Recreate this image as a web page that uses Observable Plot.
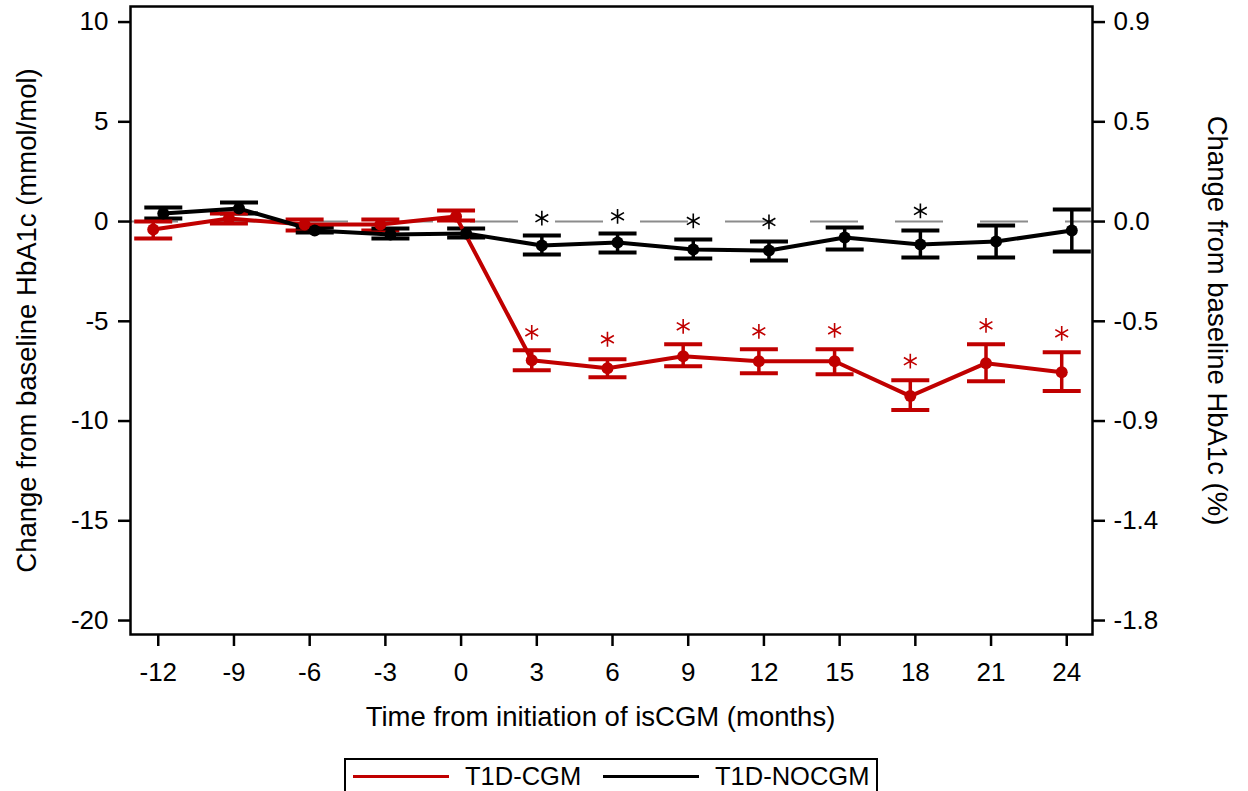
<!DOCTYPE html>
<html>
<head>
<meta charset="utf-8">
<script src="https://cdn.jsdelivr.net/npm/d3@7"></script>
<script src="https://cdn.jsdelivr.net/npm/@observablehq/plot@0.6"></script>
<style>
  html, body { margin: 0; padding: 0; background: #fff; }
  body { position: relative; width: 1248px; height: 791px; overflow: hidden; font-family: "Liberation Sans", Arial, sans-serif; }
  #chart { position: absolute; left: 0; top: 0; }
  #legend { position: absolute; left: 344px; top: 758px; width: 534px; height: 44px; border: 2px solid #000; box-sizing: border-box; }
  .item { position: absolute; top: 0; height: 32px; display: flex; align-items: center; font-size: 25.5px; color: #000; }
  .swatch { display: inline-block; width: 96px; height: 3px; margin-right: 16px; }
</style>
</head>
<body>
<div id="chart"></div>
<div id="legend"></div>
<script>
// ---- data ----
const months = [-12, -9, -6, -3, 0, 3, 6, 9, 12, 15, 18, 21, 24];

const cgmMean = [-0.4, 0.15, -0.15, -0.15, 0.25, -6.95, -7.35, -6.75, -7.0, -7.0, -8.75, -7.1, -7.55];
const cgmLow  = [-0.85, -0.1, -0.45, -0.45, 0.05, -7.45, -7.8, -7.25, -7.6, -7.65, -9.45, -8.0, -8.5];
const cgmHigh = [0.0, 0.4, 0.1, 0.1, 0.55, -6.45, -6.9, -6.15, -6.4, -6.4, -7.95, -6.15, -6.55];
const cgmStar = [null, null, null, null, null, -5.55, -5.9, -5.25, -5.5, -5.45, -7.0, -5.2, -5.6];

const nocgmMean = [0.4, 0.65, -0.45, -0.65, -0.6, -1.2, -1.05, -1.4, -1.45, -0.8, -1.15, -1.0, -0.45];
const nocgmLow  = [0.15, 0.4, -0.55, -0.85, -0.8, -1.65, -1.55, -1.85, -1.95, -1.4, -1.8, -1.8, -1.5];
const nocgmHigh = [0.7, 0.95, -0.3, -0.35, -0.35, -0.7, -0.6, -0.9, -1.0, -0.3, -0.45, -0.2, 0.6];
const nocgmStar = [null, null, null, null, null, 0.17, 0.26, 0.03, -0.02, null, 0.53, null, null];

const seriesNames = ["T1D-CGM", "T1D-NOCGM"];
const xTicks = [-12, -9, -6, -3, 0, 3, 6, 9, 12, 15, 18, 21, 24];
const yTicks = [10, 5, 0, -5, -10, -15, -20];
const pctLabels = ["0.9", "0.5", "0.0", "-0.5", "-0.9", "-1.4", "-1.8"];

const xTitle = "Time from initiation of isCGM (months)";
const yTitleLeft = "Change from baseline HbA1c (mmol/mol)";
const yTitleRight = "Change from baseline HbA1c (%)";

// ---- styling ----
const colors = { "T1D-CGM": "#c00000", "T1D-NOCGM": "#000000" };
const dodge = { "T1D-CGM": -0.2, "T1D-NOCGM": 0.2 };

const series = [
  { name: seriesNames[0], mean: cgmMean, low: cgmLow, high: cgmHigh, star: cgmStar },
  { name: seriesNames[1], mean: nocgmMean, low: nocgmLow, high: nocgmHigh, star: nocgmStar }
];
const rows = series.flatMap(s => months.map((m, i) => ({
  series: s.name, month: m, mean: s.mean[i], low: s.low[i], high: s.high[i], star: s.star[i]
})));
const starRows = rows.filter(d => d.star != null);
const xPos = d => d.month + dodge[d.series];
const pctMap = new Map(yTicks.map((t, i) => [t, pctLabels[i]]));

const capSymbol = {
  draw(ctx, size) {
    const r = Math.sqrt(size / Math.PI);
    ctx.moveTo(-r, 0);
    ctx.lineTo(r, 0);
  }
};

const FS = 26;
const TFS = 27.5;
const chart = Plot.plot({
  width: 1248,
  height: 745,
  marginLeft: 130,
  marginRight: 156,
  marginTop: 6,
  marginBottom: 111,
  style: { fontFamily: "'Liberation Sans', Arial, sans-serif", fontSize: FS + "px", color: "#000", background: "#fff" },
  x: { domain: [-13.1, 25.02] },
  y: { domain: [-20.7, 10.78] },
  marks: [
    Plot.ruleY([0], { stroke: "#8c8c8c", strokeWidth: 2, strokeDasharray: "48,37" }),
    Plot.ruleX(rows, { x: xPos, y1: "low", y2: "high", stroke: d => colors[d.series], strokeWidth: 3.5 }),
    Plot.dot(rows, { x: xPos, y: "low", symbol: capSymbol, r: 19, stroke: d => colors[d.series], strokeWidth: 4 }),
    Plot.dot(rows, { x: xPos, y: "high", symbol: capSymbol, r: 19, stroke: d => colors[d.series], strokeWidth: 4 }),
    Plot.line(rows, { x: xPos, y: "mean", z: "series", stroke: d => colors[d.series], strokeWidth: 4 }),
    Plot.dot(rows, { x: xPos, y: "mean", r: 6, fill: d => colors[d.series], stroke: "none" }),
    Plot.dot(starRows, { x: xPos, y: "star", symbol: "asterisk", r: 7, stroke: d => colors[d.series], strokeWidth: 1.6 }),
    Plot.frame({ stroke: "#000", strokeWidth: 2.5 }),
    Plot.axisX({ ticks: xTicks, tickFormat: d => String(d), tickSize: 12, tickPadding: 16, fontSize: FS, strokeWidth: 2.5, label: null }),
    Plot.axisY({ anchor: "left", ticks: yTicks, tickFormat: d => String(d), tickSize: 12, tickPadding: 10, fontSize: FS, strokeWidth: 2.5, label: null }),
    Plot.axisY({ anchor: "right", ticks: yTicks, tickFormat: d => pctMap.get(d), tickSize: 12, tickPadding: 9, fontSize: FS, strokeWidth: 2.5, label: null }),
    Plot.text([xTitle], { frameAnchor: "bottom", dy: 91, dx: -11, textAnchor: "middle", fontSize: TFS, fill: "#000" }),
    Plot.text([yTitleLeft], { frameAnchor: "left", dx: -103, rotate: -90, textAnchor: "middle", fontSize: TFS, fill: "#000" }),
    Plot.text([yTitleRight], { frameAnchor: "right", dx: 124, rotate: 90, textAnchor: "middle", fontSize: TFS, fill: "#000" })
  ]
});
document.getElementById("chart").appendChild(chart);

// legend
const legend = document.getElementById("legend");
const itemLeft = [7, 257];
seriesNames.forEach((name, i) => {
  const item = document.createElement("div");
  item.className = "item";
  item.style.left = itemLeft[i] + "px";
  const sw = document.createElement("span");
  sw.className = "swatch";
  sw.style.background = colors[name];
  const label = document.createElement("span");
  label.textContent = name;
  item.appendChild(sw);
  item.appendChild(label);
  legend.appendChild(item);
});
</script>
</body>
</html>
